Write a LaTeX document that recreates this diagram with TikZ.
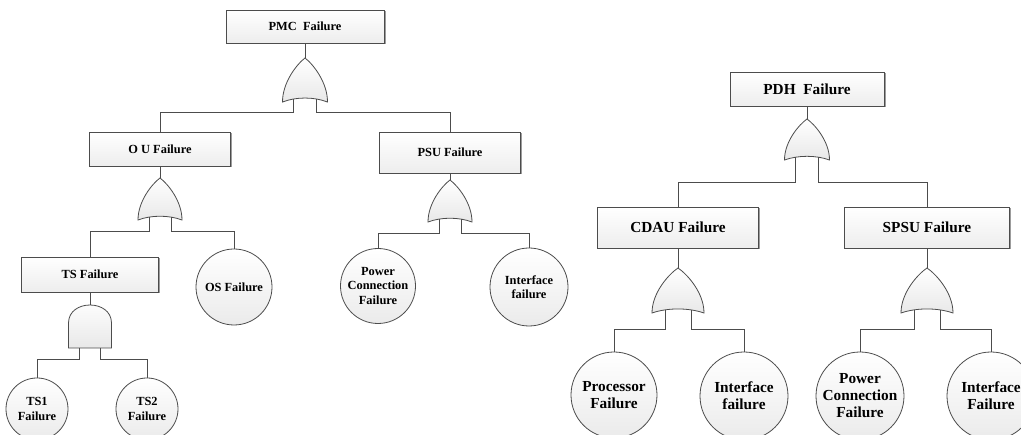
\documentclass[tikz,border=0pt]{standalone}
\usepackage{fontspec}
\setmainfont{Liberation Serif}
\usetikzlibrary{calc,shadows}
\tikzset{
  conn/.style={draw=black!70, line width=0.8pt},
  gatefill/.style={draw=black!70, line width=0.8pt, top color=white, bottom color=gray!18},
  topbox/.style={draw=black!70, line width=0.8pt, top color=white, bottom color=gray!14,
    drop shadow={shadow xshift=1.5pt, shadow yshift=-1.5pt, opacity=0.7, fill=black!55},
    inner sep=0pt, font=\bfseries\fontsize{12.4}{14.5}\selectfont},
  bigbox/.style={topbox, font=\bfseries\fontsize{15.3}{17}\selectfont},
  event/.style={circle, draw=black!70, line width=0.8pt, top color=white, bottom color=gray!16,
    inner sep=0pt, align=center, font=\bfseries\fontsize{12.4}{14.5}\selectfont},
  bigevent/.style={event, font=\bfseries\fontsize{15.3}{17}\selectfont},
  pics/orgate/.style n args={2}{code={
    \path[gatefill] (0,0) .. controls ({-0.18*#1},{0.14*#2}) and ({-0.5*#1},{0.55*#2}) .. ({-0.5*#1},#2)
      .. controls ({-0.2*#1},{0.88*#2}) and ({0.2*#1},{0.88*#2}) .. ({0.5*#1},#2)
      .. controls ({0.5*#1},{0.55*#2}) and ({0.18*#1},{0.14*#2}) .. cycle;
    \coordinate (-top) at (0,0);
    \coordinate (-a) at ({-0.25*#1},{0.93*#2});
    \coordinate (-b) at ({0.25*#1},{0.93*#2});
  }},
  pics/andgate/.style n args={2}{code={
    \path[gatefill] ({-0.5*#1},#2) -- ({-0.5*#1},{0.42*#2})
      .. controls ({-0.5*#1},{-0.14*#2}) and ({0.5*#1},{-0.14*#2}) .. ({0.5*#1},{0.42*#2})
      -- ({0.5*#1},#2) -- cycle;
    \coordinate (-top) at (0,0);
    \coordinate (-a) at ({-0.25*#1},#2);
    \coordinate (-b) at ({0.25*#1},#2);
  }}
}
\begin{document}
\begin{tikzpicture}[x=1pt, y=-1pt]
  \path[fill=white, use as bounding box] (0,0) rectangle (1021,435);
  \node[topbox, minimum width=158pt, minimum height=33pt] (pmc) at (305,26.5) {PMC\ \ Failure};
  \node[topbox, minimum width=141pt, minimum height=34pt] (ou) at (160,149) {O U Failure};
  \node[topbox, minimum width=141pt, minimum height=41pt] (psu) at (450,152.5) {PSU Failure};
  \node[topbox, minimum width=137pt, minimum height=35pt] (ts) at (90,274.5) {TS Failure};
  \node[event, minimum size=76pt] (os) at (234,287) {OS Failure};
  \node[event, minimum size=75pt] (pc1) at (378,286) {Power\\Connection\\Failure};
  \node[event, minimum size=78pt] (if1) at (529,287) {Interface\\failure};
  \node[event, minimum size=62pt] (ts1) at (37,409) {TS1\\Failure};
  \node[event, minimum size=62pt] (ts2) at (147,409) {TS2\\Failure};
  \pic (g1) at (305,58) {orgate={45}{44}};
  \pic (g2) at (160,178) {orgate={44}{42}};
  \pic (g3) at (450,180) {orgate={44}{42}};
  \pic (g4) at (90,305) {andgate={43}{43}};
  \draw[conn] (pmc.south) -- (g1-top);
  \draw[conn] (g1-a) -- ++(0,13) -| (ou.north);
  \draw[conn] (g1-b) -- ++(0,13) -| (psu.north);
  \draw[conn] (ou.south) -- (g2-top);
  \draw[conn] (g2-a) -- ++(0,14) -| (ts.north);
  \draw[conn] (g2-b) -- ++(0,14) -| (os.north);
  \draw[conn] (psu.south) -- (g3-top);
  \draw[conn] (g3-a) -- ++(0,14) -| (pc1.north);
  \draw[conn] (g3-b) -- ++(0,14) -| (if1.north);
  \draw[conn] (ts.south) -- (g4-top);
  \draw[conn] (g4-a) -- ++(0,11) -| (ts1.north);
  \draw[conn] (g4-b) -- ++(0,11) -| (ts2.north);
  \node[bigbox, minimum width=154pt, minimum height=34pt] (pdh) at (807,89) {PDH\ \ Failure};
  \node[bigbox, minimum width=161pt, minimum height=41pt] (cdau) at (678,227.5) {CDAU Failure};
  \node[bigbox, minimum width=165pt, minimum height=41pt] (spsu) at (927,227.5) {SPSU Failure};
  \node[bigevent, minimum size=86pt] (proc) at (614,395) {Processor\\Failure};
  \node[bigevent, minimum size=88pt] (if2) at (744,396) {Interface\\failure};
  \node[bigevent, minimum size=88pt] (pc2) at (860,396) {Power\\Connection\\Failure};
  \node[bigevent, minimum size=88pt] (if3) at (991,396) {Interface\\Failure};
  \pic (g5) at (807,119) {orgate={45}{41}};
  \pic (g6) at (678,268) {orgate={52}{45}};
  \pic (g7) at (927,268) {orgate={52}{45}};
  \draw[conn] (pdh.south) -- (g5-top);
  \draw[conn] (g5-a) -- ++(0,25) -| (cdau.north);
  \draw[conn] (g5-b) -- ++(0,25) -| (spsu.north);
  \draw[conn] (cdau.south) -- (g6-top);
  \draw[conn] (g6-a) -- ++(0,20) -| (proc.north);
  \draw[conn] (g6-b) -- ++(0,20) -| (if2.north);
  \draw[conn] (spsu.south) -- (g7-top);
  \draw[conn] (g7-a) -- ++(0,20) -| (pc2.north);
  \draw[conn] (g7-b) -- ++(0,20) -| (if3.north);
\end{tikzpicture}
\end{document}
